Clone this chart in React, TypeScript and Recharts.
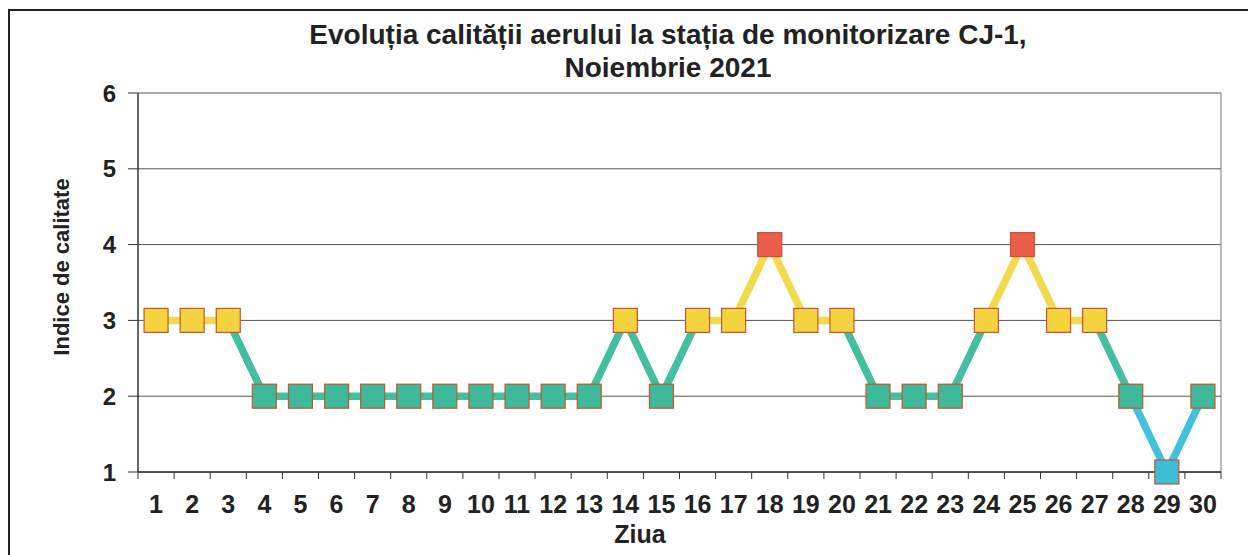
import React from 'react';
import { LineChart, Line, XAxis, YAxis, CartesianGrid, ReferenceLine } from 'recharts';

const days = [1, 2, 3, 4, 5, 6, 7, 8, 9, 10, 11, 12, 13, 14, 15, 16, 17, 18, 19, 20, 21, 22, 23, 24, 25, 26, 27, 28, 29, 30];
const qualityIndex = [3, 3, 3, 2, 2, 2, 2, 2, 2, 2, 2, 2, 2, 3, 2, 3, 3, 4, 3, 3, 2, 2, 2, 3, 4, 3, 3, 2, 1, 2];
const yTicks = [1, 2, 3, 4, 5, 6];

const titleLine1 = 'Evoluția calității aerului la stația de monitorizare CJ-1,';
const titleLine2 = 'Noiembrie 2021';
const yAxisTitle = 'Indice de calitate';
const xAxisTitle = 'Ziua';

const markerFill: Record<number, string> = { 1: '#3dbdd6', 2: '#3fb99b', 3: '#f5d33f', 4: '#ea5e4b' };
const lineColor: Record<number, string> = { 1: '#42c2da', 2: '#45bea0', 3: '#f2da4c', 4: '#ea5e4b' };

const FONT = '"Liberation Sans", Arial, sans-serif';

type Row = { day: number; value: number; [k: string]: number | undefined };
const rows: Row[] = days.map((d, i) => ({ day: d, value: qualityIndex[i] }));
const runs: { key: string; level: number }[] = [];
for (let i = 0; i < qualityIndex.length - 1; i++) {
  const level = Math.min(qualityIndex[i], qualityIndex[i + 1]);
  if (runs.length === 0 || runs[runs.length - 1].level !== level) {
    runs.push({ key: `run${runs.length}`, level });
  }
  const key = runs[runs.length - 1].key;
  rows[i][key] = qualityIndex[i];
  rows[i + 1][key] = qualityIndex[i + 1];
}

const xTicks: number[] = [0.5];
days.forEach((d) => {
  xTicks.push(d);
  xTicks.push(d + 0.5);
});

const XTick = (props: any) => {
  const { x, y, payload } = props;
  const v = payload.value;
  if (Number.isInteger(v)) {
    return (
      <text x={x} y={y + 41} textAnchor="middle" fontFamily={FONT} fontWeight="bold" fontSize={25} fill="#222">
        {v}
      </text>
    );
  }
  return <line x1={x} x2={x} y1={y} y2={y + 7} stroke="#333" strokeWidth={1} />;
};

const SquareDot = (props: any) => {
  const { cx, cy, payload, index } = props;
  if (cx == null || cy == null) return <g key={`d${index}`} />;
  return (
    <rect
      key={`d${index}`}
      x={cx - 12}
      y={cy - 12}
      width={24}
      height={24}
      fill={markerFill[payload.value]}
      stroke="#c4562e"
      strokeWidth={1.2}
    />
  );
};

export default function App() {
  return (
    <div style={{ position: 'relative', width: 1248, height: 547, overflow: 'hidden', background: '#fff' }}>
      <div
        style={{
          position: 'absolute',
          left: 0,
          top: 1,
          width: 1300,
          height: 700,
          border: '2px solid #222',
          boxSizing: 'border-box',
        }}
      />
      <div style={{ position: 'absolute', left: 0, top: 0 }}>
        <LineChart width={1248} height={547} data={rows} margin={{ top: 85, right: 35, bottom: 36, left: 1 }}>
          <CartesianGrid horizontal vertical={false} stroke="#555" strokeWidth={1} />
          <XAxis
            type="number"
            dataKey="day"
            domain={[0.5, 30.5]}
            ticks={xTicks}
            interval={0}
            tick={<XTick />}
            tickLine={false}
            tickSize={0}
            tickMargin={0}
            height={47}
            axisLine={{ stroke: '#333', strokeWidth: 1.5 }}
          />
          <YAxis
            type="number"
            domain={[1, 6]}
            ticks={yTicks}
            interval={0}
            width={129}
            tickSize={10}
            tickMargin={12}
            tickLine={{ stroke: '#333' }}
            axisLine={{ stroke: '#333', strokeWidth: 1.5 }}
            tick={{ fontFamily: FONT, fontWeight: 'bold', fontSize: 24, fill: '#222' }}
          />
          <ReferenceLine x={30.5} stroke="#777" strokeWidth={1} />
          {runs.map((r) => (
            <Line
              key={r.key}
              dataKey={r.key}
              type="linear"
              stroke={lineColor[r.level]}
              strokeWidth={7.5}
              dot={false}
              activeDot={false}
              connectNulls={false}
              isAnimationActive={false}
            />
          ))}
          <Line
            dataKey="value"
            type="linear"
            stroke="none"
            dot={<SquareDot />}
            activeDot={false}
            isAnimationActive={false}
          />
        </LineChart>
      </div>
      <svg width={1248} height={547} style={{ position: 'absolute', left: 0, top: 0, pointerEvents: 'none' }}>
        <text x={660} y={36} textAnchor="middle" fontFamily={FONT} fontWeight="bold" fontSize={28} fill="#222">
          {titleLine1}
        </text>
        <text x={660} y={69} textAnchor="middle" fontFamily={FONT} fontWeight="bold" fontSize={28} fill="#222">
          {titleLine2}
        </text>
        <text
          x={0}
          y={0}
          transform="translate(61,259) rotate(-90)"
          textAnchor="middle"
          fontFamily={FONT}
          fontWeight="bold"
          fontSize={22}
          fill="#222"
        >
          {yAxisTitle}
        </text>
        <text x={632} y={535} textAnchor="middle" fontFamily={FONT} fontWeight="bold" fontSize={25} fill="#222">
          {xAxisTitle}
        </text>
      </svg>
    </div>
  );
}
